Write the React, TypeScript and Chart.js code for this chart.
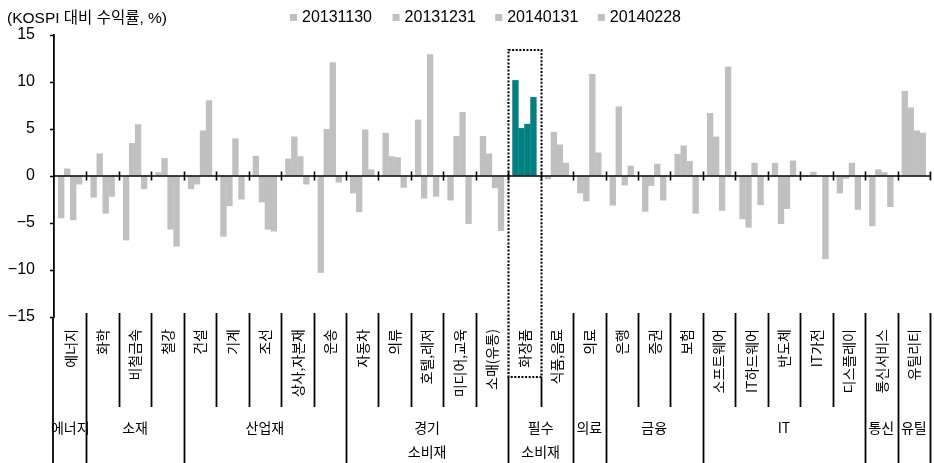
import React, { useEffect, useRef } from 'react';
import { Chart, registerables } from 'chart.js';

Chart.register(...registerables);

const industries = [
  '에너지', '화학', '비철금속', '철강', '건설', '기계', '조선', '상사,자본재', '운송',
  '자동차', '의류', '호텔,레저', '미디어,교육', '소매(유통)', '화장품', '식품,음료', '의료',
  '은행', '증권', '보험', '소프트웨어', 'IT하드웨어', '반도체', 'IT가전', '디스플레이',
  '통신서비스', '유틸리티',
];

const seriesLabels = ['20131130', '20131231', '20140131', '20140228'];

const s20131130 = [-4.5, -2.3, -6.85, 0.4, -1.4, -6.45, 2.15, 1.85, -10.3, -1.85, 4.6, 6.0, -2.6, 4.25, 10.2, -0.35, -1.85, -3.15, -3.8, 2.35, 6.7, -4.6, 1.4, 0, -1.85, -5.35, 9.05];
const s20131231 = [0.8, 2.4, 3.5, 1.9, -0.9, -3.2, -2.8, 4.2, 5.0, -3.85, 2.1, -2.4, 4.25, 2.4, 5.1, 4.7, -2.7, 7.4, -1.05, 3.25, 4.2, -5.5, -5.1, 0.45, -0.3, 0.7, 7.3];
const s20140131 = [-4.7, -4.0, 5.5, -5.7, 4.85, 4.0, -5.7, 2.1, 12.1, 4.95, 2.0, 12.95, 6.8, -1.3, 5.55, 3.35, 10.85, -1.0, 1.3, 1.6, -3.7, 1.4, -3.5, 0, 1.4, 0.4, 4.85];
const s20140228 = [-0.9, -2.2, -1.4, -7.5, 8.05, -2.5, -5.9, -0.9, -0.7, 0.7, -1.25, -2.2, -5.1, -5.85, 8.4, 1.4, 2.5, 1.1, -2.6, -4.0, 11.65, -3.1, 1.65, -8.85, -3.6, -3.3, 4.6];

const groupNames = [['에너지'], ['소재'], ['산업재'], ['경기', '소비재'], ['필수', '소비재'], ['의료'], ['금융'], ['IT'], ['통신'], ['유틸']];
const groupSpans = [1, 3, 5, 5, 2, 1, 3, 5, 1, 1];

const highlightIndex = 14;
const yMin = -15;
const yMax = 15;
const yStep = 5;
const titleText = '(KOSPI 대비 수익률, %)';

const GREY = '#c0c0c0';
const TEAL = '#008080';
const NUM_FONT = '"Liberation Sans", "Noto Sans CJK KR", sans-serif';
const KR_FONT = '"Noto Sans CJK KR", "Liberation Sans", sans-serif';

const decorPlugin = {
  id: 'decor',
  afterDatasetsDraw(chart: any) {
    const { ctx, chartArea, scales } = chart;
    const xs = scales.x;
    const ys = scales.y;
    const H = chart.height;
    const n = industries.length;
    const cw = (chartArea.right - chartArea.left) / n;
    const bx = (i: number) => (i >= n ? chartArea.right : xs.getPixelForValue(i) - cw / 2);
    const y0 = ys.getPixelForValue(0);
    const line = (x1: number, y1: number, x2: number, y2: number) => {
      ctx.beginPath();
      ctx.moveTo(x1, y1);
      ctx.lineTo(x2, y2);
      ctx.stroke();
    };

    ctx.save();
    ctx.strokeStyle = '#000';
    ctx.lineWidth = 1.6;
    // zero line with category ticks
    line(chartArea.left, y0, chartArea.right, y0);
    for (let i = 1; i <= n; i++) {
      const xb = Math.round(bx(i)) + 0.5;
      line(xb, y0 - 4.5, xb, y0 + 4.5);
    }
    // y axis extension through label area
    ctx.lineWidth = 1.8;
    line(chartArea.left - 1, chartArea.bottom, chartArea.left - 1, H);

    // separators
    const groupBounds = new Set<number>();
    let acc = 0;
    for (const s of groupSpans) {
      acc += s;
      groupBounds.add(acc);
    }
    const sepTop = chartArea.bottom - 4;
    const shortBottom = chartArea.bottom + 90;
    ctx.lineWidth = 1.8;
    for (let i = 1; i <= n; i++) {
      const xb = Math.round(bx(i)) + 0.5;
      line(xb, sepTop, xb, groupBounds.has(i) ? H : shortBottom);
    }

    // industry labels (rotated)
    ctx.fillStyle = '#000';
    ctx.font = `14px ${KR_FONT}`;
    ctx.textAlign = 'right';
    ctx.textBaseline = 'middle';
    for (let i = 0; i < n; i++) {
      const cx = xs.getPixelForValue(i);
      ctx.save();
      ctx.translate(cx, chartArea.bottom + 12);
      ctx.rotate(-Math.PI / 2);
      ctx.fillText(industries[i], 0, 0);
      ctx.restore();
    }

    // group labels
    ctx.textAlign = 'center';
    ctx.font = `14px ${KR_FONT}`;
    let start = 0;
    groupNames.forEach((lines, g) => {
      const end = start + groupSpans[g];
      const cx = (bx(start) + bx(end)) / 2;
      lines.forEach((t, k) => {
        ctx.fillText(t, cx, chartArea.bottom + 111 + k * 24);
      });
      start = end;
    });

    // dotted highlight box
    const rx1 = Math.round(bx(highlightIndex)) + 0.5;
    const rx2 = Math.round(bx(highlightIndex + 1)) + 0.5;
    const ry1 = chartArea.top + 15;
    const ry2 = chartArea.bottom + 60;
    ctx.strokeStyle = '#fff';
    ctx.lineWidth = 2.5;
    line(rx1, sepTop - 1, rx1, ry2);
    line(rx2, sepTop - 1, rx2, ry2);
    ctx.strokeStyle = '#000';
    ctx.lineWidth = 2;
    ctx.setLineDash([2, 1.6]);
    ctx.beginPath();
    ctx.rect(rx1, ry1, rx2 - rx1, ry2 - ry1);
    ctx.stroke();
    ctx.setLineDash([]);

    // title
    ctx.fillStyle = '#000';
    ctx.textAlign = 'left';
    ctx.textBaseline = 'middle';
    ctx.font = `15.5px ${NUM_FONT}`;
    ctx.fillText(titleText, 7, 19);

    // legend
    ctx.font = `16px ${NUM_FONT}`;
    const legX0 = 290;
    const legStep = 102.6;
    seriesLabels.forEach((lab, k) => {
      const lx = legX0 + k * legStep;
      ctx.fillStyle = GREY;
      ctx.fillRect(lx, 14, 7, 7);
      ctx.fillStyle = '#000';
      ctx.fillText(lab, lx + 12, 18);
    });

    ctx.restore();
  },
};

export default function App() {
  const ref = useRef<HTMLCanvasElement | null>(null);

  useEffect(() => {
    if (!ref.current) return;
    const colorsFor = () => industries.map((_, i) => (i === highlightIndex ? TEAL : GREY));
    const seriesData = [s20131130, s20131231, s20140131, s20140228];
    const chart = new Chart(ref.current, {
      type: 'bar',
      data: {
        labels: industries,
        datasets: seriesData.map((d, k) => ({
          label: seriesLabels[k],
          data: d,
          backgroundColor: colorsFor(),
          borderWidth: 0,
          barPercentage: 1.06,
          categoryPercentage: 0.74,
        })),
      },
      options: {
        animation: false,
        responsive: false,
        devicePixelRatio: 1,
        layout: { padding: { top: 35, right: 4, bottom: 146, left: 0 } },
        plugins: {
          legend: { display: false },
          tooltip: { enabled: false },
          title: { display: false },
        },
        scales: {
          x: {
            type: 'category',
            display: false,
            offset: true,
          },
          y: {
            min: yMin,
            max: yMax,
            afterFit: (scale: any) => {
              scale.width = 54;
            },
            ticks: {
              stepSize: yStep,
              padding: 15,
              color: '#000',
              font: { family: NUM_FONT, size: 16 },
              callback: (v: any) => (Number(v) < 0 ? '\u2212' + Math.abs(Number(v)) : String(v)),
            },
            grid: {
              drawOnChartArea: false,
              drawTicks: true,
              tickLength: 4,
              tickColor: '#000',
              tickWidth: 1.5,
            },
            border: { display: true, color: '#000', width: 1.8 },
          },
        },
      },
      plugins: [decorPlugin],
    });
    return () => chart.destroy();
  }, []);

  return (
    <div style={{ position: 'absolute', left: 0, top: 0, width: 934, height: 463, background: '#fff' }}>
      <canvas ref={ref} width={934} height={463} style={{ display: 'block' }} />
    </div>
  );
}
